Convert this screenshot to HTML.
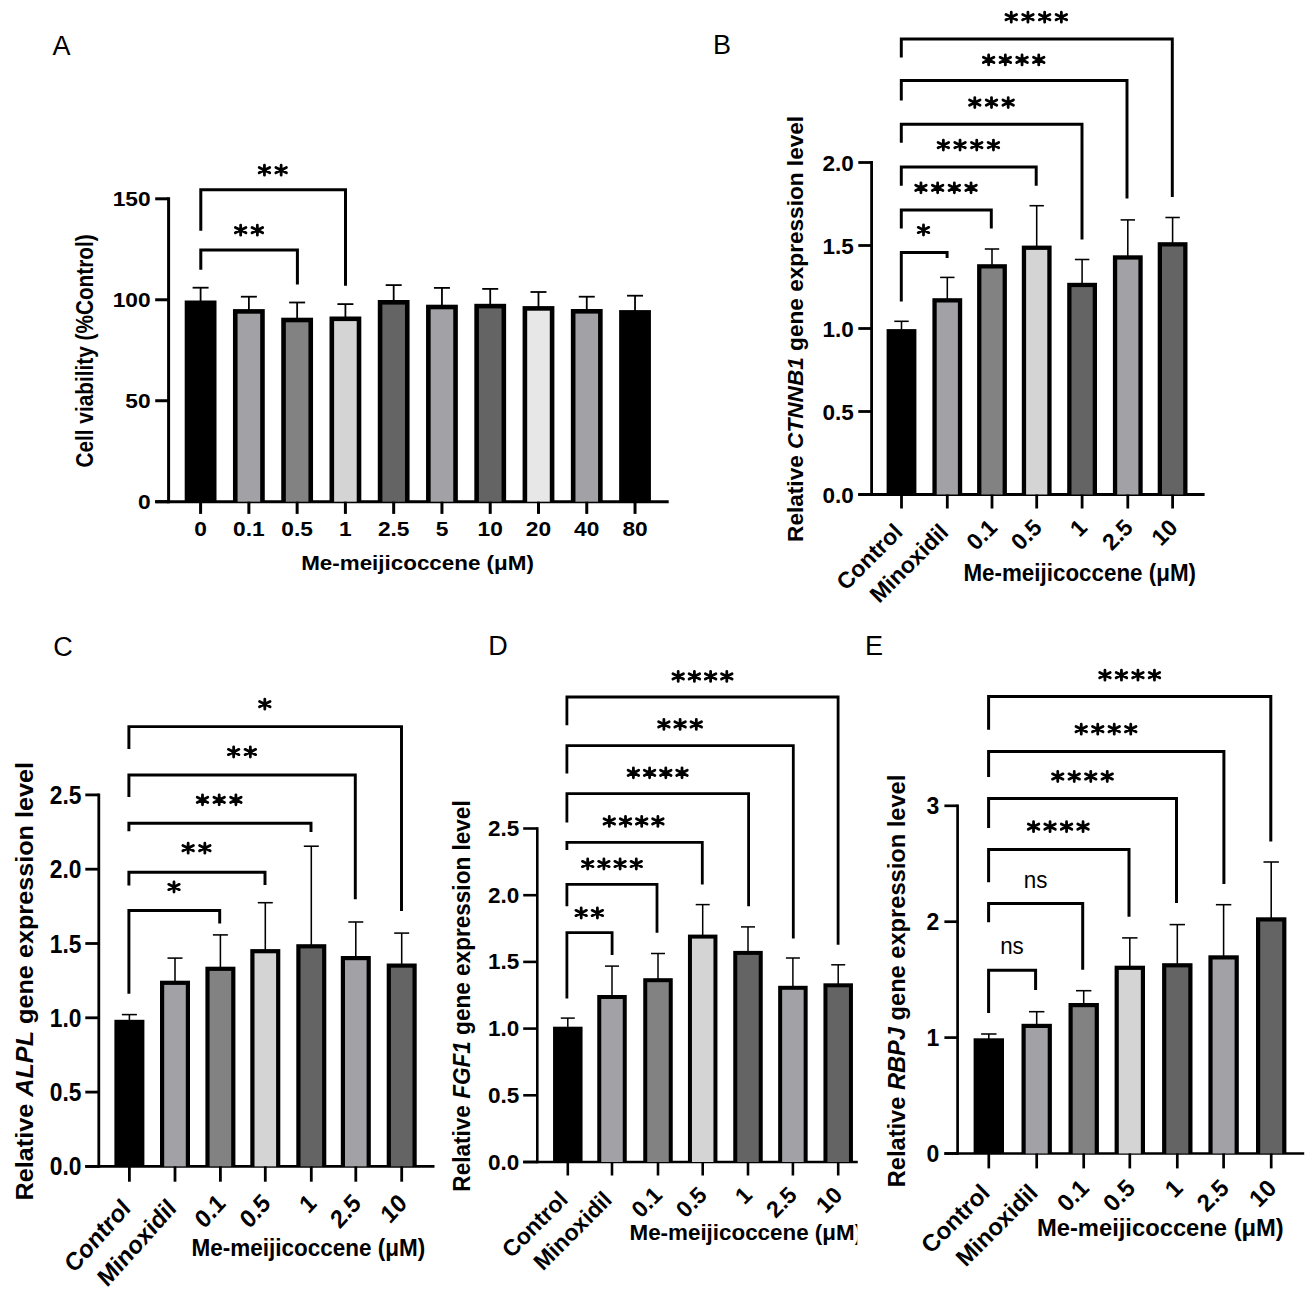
<!DOCTYPE html>
<html><head><meta charset="utf-8"><title>Figure</title>
<style>html,body{margin:0;padding:0;background:#fff;width:1313px;height:1296px;overflow:hidden}svg{display:block}text{font-family:"Liberation Sans",sans-serif}</style>
</head><body>
<svg width="1313" height="1296" viewBox="0 0 1313 1296">
<text x="52.50" y="54.70" font-family="'Liberation Sans',sans-serif" font-size="27" font-weight="normal" text-anchor="start">A</text>
<line x1="168.60" y1="197.30" x2="168.60" y2="503.20" stroke="#000" stroke-width="3.0" stroke-linecap="butt"/>
<line x1="155.20" y1="501.70" x2="168.60" y2="501.70" stroke="#000" stroke-width="3.0" stroke-linecap="butt"/>
<text transform="translate(150.60,509.00) scale(1.12,1)" font-family="'Liberation Sans',sans-serif" font-size="20.3" font-weight="bold" text-anchor="end">0</text>
<line x1="155.20" y1="400.73" x2="168.60" y2="400.73" stroke="#000" stroke-width="3.0" stroke-linecap="butt"/>
<text transform="translate(150.60,408.03) scale(1.12,1)" font-family="'Liberation Sans',sans-serif" font-size="20.3" font-weight="bold" text-anchor="end">50</text>
<line x1="155.20" y1="299.77" x2="168.60" y2="299.77" stroke="#000" stroke-width="3.0" stroke-linecap="butt"/>
<text transform="translate(150.60,307.07) scale(1.12,1)" font-family="'Liberation Sans',sans-serif" font-size="20.3" font-weight="bold" text-anchor="end">100</text>
<line x1="155.20" y1="198.80" x2="168.60" y2="198.80" stroke="#000" stroke-width="3.0" stroke-linecap="butt"/>
<text transform="translate(150.60,206.10) scale(1.12,1)" font-family="'Liberation Sans',sans-serif" font-size="20.3" font-weight="bold" text-anchor="end">150</text>
<line x1="155.20" y1="501.70" x2="668.70" y2="501.70" stroke="#000" stroke-width="3.0" stroke-linecap="butt"/>
<line x1="200.60" y1="301.50" x2="200.60" y2="287.70" stroke="#000" stroke-width="1.8" stroke-linecap="butt"/>
<line x1="192.60" y1="287.70" x2="208.60" y2="287.70" stroke="#000" stroke-width="1.8" stroke-linecap="butt"/>
<rect x="184.70" y="300.50" width="31.80" height="201.20" fill="#000"/>
<line x1="200.60" y1="501.70" x2="200.60" y2="513.90" stroke="#000" stroke-width="3.0" stroke-linecap="butt"/>
<line x1="248.87" y1="310.10" x2="248.87" y2="296.70" stroke="#000" stroke-width="1.8" stroke-linecap="butt"/>
<line x1="240.87" y1="296.70" x2="256.87" y2="296.70" stroke="#000" stroke-width="1.8" stroke-linecap="butt"/>
<rect x="232.97" y="309.10" width="31.80" height="192.60" fill="#000"/>
<rect x="237.57" y="313.70" width="22.60" height="188.00" fill="#a1a1a6"/>
<line x1="248.87" y1="501.70" x2="248.87" y2="513.90" stroke="#000" stroke-width="3.0" stroke-linecap="butt"/>
<line x1="297.14" y1="318.70" x2="297.14" y2="302.50" stroke="#000" stroke-width="1.8" stroke-linecap="butt"/>
<line x1="289.14" y1="302.50" x2="305.14" y2="302.50" stroke="#000" stroke-width="1.8" stroke-linecap="butt"/>
<rect x="281.24" y="317.70" width="31.80" height="184.00" fill="#000"/>
<rect x="285.84" y="322.30" width="22.60" height="179.40" fill="#828282"/>
<line x1="297.14" y1="501.70" x2="297.14" y2="513.90" stroke="#000" stroke-width="3.0" stroke-linecap="butt"/>
<line x1="345.41" y1="317.50" x2="345.41" y2="304.10" stroke="#000" stroke-width="1.8" stroke-linecap="butt"/>
<line x1="337.41" y1="304.10" x2="353.41" y2="304.10" stroke="#000" stroke-width="1.8" stroke-linecap="butt"/>
<rect x="329.51" y="316.50" width="31.80" height="185.20" fill="#000"/>
<rect x="334.11" y="321.10" width="22.60" height="180.60" fill="#d4d4d4"/>
<line x1="345.41" y1="501.70" x2="345.41" y2="513.90" stroke="#000" stroke-width="3.0" stroke-linecap="butt"/>
<line x1="393.68" y1="301.00" x2="393.68" y2="285.10" stroke="#000" stroke-width="1.8" stroke-linecap="butt"/>
<line x1="385.68" y1="285.10" x2="401.68" y2="285.10" stroke="#000" stroke-width="1.8" stroke-linecap="butt"/>
<rect x="377.78" y="300.00" width="31.80" height="201.70" fill="#000"/>
<rect x="382.38" y="304.60" width="22.60" height="197.10" fill="#646464"/>
<line x1="393.68" y1="501.70" x2="393.68" y2="513.90" stroke="#000" stroke-width="3.0" stroke-linecap="butt"/>
<line x1="441.95" y1="305.70" x2="441.95" y2="287.90" stroke="#000" stroke-width="1.8" stroke-linecap="butt"/>
<line x1="433.95" y1="287.90" x2="449.95" y2="287.90" stroke="#000" stroke-width="1.8" stroke-linecap="butt"/>
<rect x="426.05" y="304.70" width="31.80" height="197.00" fill="#000"/>
<rect x="430.65" y="309.30" width="22.60" height="192.40" fill="#a1a1a6"/>
<line x1="441.95" y1="501.70" x2="441.95" y2="513.90" stroke="#000" stroke-width="3.0" stroke-linecap="butt"/>
<line x1="490.22" y1="304.80" x2="490.22" y2="288.90" stroke="#000" stroke-width="1.8" stroke-linecap="butt"/>
<line x1="482.22" y1="288.90" x2="498.22" y2="288.90" stroke="#000" stroke-width="1.8" stroke-linecap="butt"/>
<rect x="474.32" y="303.80" width="31.80" height="197.90" fill="#000"/>
<rect x="478.92" y="308.40" width="22.60" height="193.30" fill="#646464"/>
<line x1="490.22" y1="501.70" x2="490.22" y2="513.90" stroke="#000" stroke-width="3.0" stroke-linecap="butt"/>
<line x1="538.49" y1="307.10" x2="538.49" y2="292.00" stroke="#000" stroke-width="1.8" stroke-linecap="butt"/>
<line x1="530.49" y1="292.00" x2="546.49" y2="292.00" stroke="#000" stroke-width="1.8" stroke-linecap="butt"/>
<rect x="522.59" y="306.10" width="31.80" height="195.60" fill="#000"/>
<rect x="527.19" y="310.70" width="22.60" height="191.00" fill="#e7e7e7"/>
<line x1="538.49" y1="501.70" x2="538.49" y2="513.90" stroke="#000" stroke-width="3.0" stroke-linecap="butt"/>
<line x1="586.76" y1="310.00" x2="586.76" y2="296.70" stroke="#000" stroke-width="1.8" stroke-linecap="butt"/>
<line x1="578.76" y1="296.70" x2="594.76" y2="296.70" stroke="#000" stroke-width="1.8" stroke-linecap="butt"/>
<rect x="570.86" y="309.00" width="31.80" height="192.70" fill="#000"/>
<rect x="575.46" y="313.60" width="22.60" height="188.10" fill="#a1a1a6"/>
<line x1="586.76" y1="501.70" x2="586.76" y2="513.90" stroke="#000" stroke-width="3.0" stroke-linecap="butt"/>
<line x1="635.03" y1="311.10" x2="635.03" y2="295.70" stroke="#000" stroke-width="1.8" stroke-linecap="butt"/>
<line x1="627.03" y1="295.70" x2="643.03" y2="295.70" stroke="#000" stroke-width="1.8" stroke-linecap="butt"/>
<rect x="619.13" y="310.10" width="31.80" height="191.60" fill="#000"/>
<line x1="635.03" y1="501.70" x2="635.03" y2="513.90" stroke="#000" stroke-width="3.0" stroke-linecap="butt"/>
<text transform="translate(200.60,535.90) scale(1.12,1)" font-family="'Liberation Sans',sans-serif" font-size="20.3" font-weight="bold" text-anchor="middle">0</text>
<text transform="translate(248.87,535.90) scale(1.12,1)" font-family="'Liberation Sans',sans-serif" font-size="20.3" font-weight="bold" text-anchor="middle">0.1</text>
<text transform="translate(297.14,535.90) scale(1.12,1)" font-family="'Liberation Sans',sans-serif" font-size="20.3" font-weight="bold" text-anchor="middle">0.5</text>
<text transform="translate(345.41,535.90) scale(1.12,1)" font-family="'Liberation Sans',sans-serif" font-size="20.3" font-weight="bold" text-anchor="middle">1</text>
<text transform="translate(393.68,535.90) scale(1.12,1)" font-family="'Liberation Sans',sans-serif" font-size="20.3" font-weight="bold" text-anchor="middle">2.5</text>
<text transform="translate(441.95,535.90) scale(1.12,1)" font-family="'Liberation Sans',sans-serif" font-size="20.3" font-weight="bold" text-anchor="middle">5</text>
<text transform="translate(490.22,535.90) scale(1.12,1)" font-family="'Liberation Sans',sans-serif" font-size="20.3" font-weight="bold" text-anchor="middle">10</text>
<text transform="translate(538.49,535.90) scale(1.12,1)" font-family="'Liberation Sans',sans-serif" font-size="20.3" font-weight="bold" text-anchor="middle">20</text>
<text transform="translate(586.76,535.90) scale(1.12,1)" font-family="'Liberation Sans',sans-serif" font-size="20.3" font-weight="bold" text-anchor="middle">40</text>
<text transform="translate(635.03,535.90) scale(1.12,1)" font-family="'Liberation Sans',sans-serif" font-size="20.3" font-weight="bold" text-anchor="middle">80</text>
<path d="M200.80 269.80V250.00H297.40V284.60" fill="none" stroke="#000" stroke-width="3.0" stroke-linejoin="miter" stroke-linecap="butt"/>
<path d="M240.65 225.20V235.20M235.37 227.57L245.93 232.83M235.37 232.83L245.93 227.57" stroke="#000" stroke-width="2.80" stroke-linecap="round" fill="none"/>
<circle cx="240.65" cy="230.20" r="2.30"/>
<path d="M257.35 225.20V235.20M252.07 227.57L262.63 232.83M252.07 232.83L262.63 227.57" stroke="#000" stroke-width="2.80" stroke-linecap="round" fill="none"/>
<circle cx="257.35" cy="230.20" r="2.30"/>
<path d="M200.80 230.70V189.70H345.50V285.70" fill="none" stroke="#000" stroke-width="3.0" stroke-linejoin="miter" stroke-linecap="butt"/>
<path d="M264.45 165.20V175.20M259.17 167.57L269.73 172.83M259.17 172.83L269.73 167.57" stroke="#000" stroke-width="2.80" stroke-linecap="round" fill="none"/>
<circle cx="264.45" cy="170.20" r="2.30"/>
<path d="M281.15 165.20V175.20M275.87 167.57L286.43 172.83M275.87 172.83L286.43 167.57" stroke="#000" stroke-width="2.80" stroke-linecap="round" fill="none"/>
<circle cx="281.15" cy="170.20" r="2.30"/>
<text x="417.55" y="570.40" font-family="'Liberation Sans',sans-serif" font-size="20.8" font-weight="bold" text-anchor="middle" textLength="232.7" lengthAdjust="spacingAndGlyphs">Me-meijicoccene (μM)</text>
<text transform="translate(92.60,350.95) scale(1.12,1) rotate(-90)" font-family="'Liberation Sans',sans-serif" font-size="20.7" font-weight="bold" text-anchor="middle" textLength="233.2" lengthAdjust="spacingAndGlyphs">Cell viability (%Control)</text>
<text x="713.00" y="54.20" font-family="'Liberation Sans',sans-serif" font-size="27" font-weight="normal" text-anchor="start">B</text>
<line x1="871.60" y1="161.10" x2="871.60" y2="495.90" stroke="#000" stroke-width="2.8" stroke-linecap="butt"/>
<line x1="858.30" y1="494.50" x2="871.60" y2="494.50" stroke="#000" stroke-width="2.8" stroke-linecap="butt"/>
<text x="853.90" y="502.50" font-family="'Liberation Sans',sans-serif" font-size="22.5" font-weight="bold" text-anchor="end">0.0</text>
<line x1="858.30" y1="411.50" x2="871.60" y2="411.50" stroke="#000" stroke-width="2.8" stroke-linecap="butt"/>
<text x="853.90" y="419.50" font-family="'Liberation Sans',sans-serif" font-size="22.5" font-weight="bold" text-anchor="end">0.5</text>
<line x1="858.30" y1="328.50" x2="871.60" y2="328.50" stroke="#000" stroke-width="2.8" stroke-linecap="butt"/>
<text x="853.90" y="336.50" font-family="'Liberation Sans',sans-serif" font-size="22.5" font-weight="bold" text-anchor="end">1.0</text>
<line x1="858.30" y1="245.50" x2="871.60" y2="245.50" stroke="#000" stroke-width="2.8" stroke-linecap="butt"/>
<text x="853.90" y="253.50" font-family="'Liberation Sans',sans-serif" font-size="22.5" font-weight="bold" text-anchor="end">1.5</text>
<line x1="858.30" y1="162.50" x2="871.60" y2="162.50" stroke="#000" stroke-width="2.8" stroke-linecap="butt"/>
<text x="853.90" y="170.50" font-family="'Liberation Sans',sans-serif" font-size="22.5" font-weight="bold" text-anchor="end">2.0</text>
<line x1="858.30" y1="494.50" x2="1204.60" y2="494.50" stroke="#000" stroke-width="2.8" stroke-linecap="butt"/>
<line x1="901.50" y1="330.10" x2="901.50" y2="321.30" stroke="#000" stroke-width="1.55" stroke-linecap="butt"/>
<line x1="894.30" y1="321.30" x2="908.70" y2="321.30" stroke="#000" stroke-width="1.55" stroke-linecap="butt"/>
<rect x="886.60" y="329.10" width="29.80" height="165.40" fill="#000"/>
<line x1="901.50" y1="494.50" x2="901.50" y2="508.50" stroke="#000" stroke-width="2.8" stroke-linecap="butt"/>
<line x1="947.30" y1="299.20" x2="947.30" y2="277.40" stroke="#000" stroke-width="1.55" stroke-linecap="butt"/>
<line x1="940.10" y1="277.40" x2="954.50" y2="277.40" stroke="#000" stroke-width="1.55" stroke-linecap="butt"/>
<rect x="932.40" y="298.20" width="29.80" height="196.30" fill="#000"/>
<rect x="936.70" y="302.50" width="21.20" height="192.00" fill="#a1a1a6"/>
<line x1="947.30" y1="494.50" x2="947.30" y2="508.50" stroke="#000" stroke-width="2.8" stroke-linecap="butt"/>
<line x1="992.00" y1="265.20" x2="992.00" y2="249.00" stroke="#000" stroke-width="1.55" stroke-linecap="butt"/>
<line x1="984.80" y1="249.00" x2="999.20" y2="249.00" stroke="#000" stroke-width="1.55" stroke-linecap="butt"/>
<rect x="977.10" y="264.20" width="29.80" height="230.30" fill="#000"/>
<rect x="981.40" y="268.50" width="21.20" height="226.00" fill="#828282"/>
<line x1="992.00" y1="494.50" x2="992.00" y2="508.50" stroke="#000" stroke-width="2.8" stroke-linecap="butt"/>
<line x1="1036.70" y1="246.60" x2="1036.70" y2="205.70" stroke="#000" stroke-width="1.55" stroke-linecap="butt"/>
<line x1="1029.50" y1="205.70" x2="1043.90" y2="205.70" stroke="#000" stroke-width="1.55" stroke-linecap="butt"/>
<rect x="1021.80" y="245.60" width="29.80" height="248.90" fill="#000"/>
<rect x="1026.10" y="249.90" width="21.20" height="244.60" fill="#d4d4d4"/>
<line x1="1036.70" y1="494.50" x2="1036.70" y2="508.50" stroke="#000" stroke-width="2.8" stroke-linecap="butt"/>
<line x1="1082.10" y1="283.80" x2="1082.10" y2="259.50" stroke="#000" stroke-width="1.55" stroke-linecap="butt"/>
<line x1="1074.90" y1="259.50" x2="1089.30" y2="259.50" stroke="#000" stroke-width="1.55" stroke-linecap="butt"/>
<rect x="1067.20" y="282.80" width="29.80" height="211.70" fill="#000"/>
<rect x="1071.50" y="287.10" width="21.20" height="207.40" fill="#646464"/>
<line x1="1082.10" y1="494.50" x2="1082.10" y2="508.50" stroke="#000" stroke-width="2.8" stroke-linecap="butt"/>
<line x1="1127.80" y1="256.30" x2="1127.80" y2="219.90" stroke="#000" stroke-width="1.55" stroke-linecap="butt"/>
<line x1="1120.60" y1="219.90" x2="1135.00" y2="219.90" stroke="#000" stroke-width="1.55" stroke-linecap="butt"/>
<rect x="1112.90" y="255.30" width="29.80" height="239.20" fill="#000"/>
<rect x="1117.20" y="259.60" width="21.20" height="234.90" fill="#a1a1a6"/>
<line x1="1127.80" y1="494.50" x2="1127.80" y2="508.50" stroke="#000" stroke-width="2.8" stroke-linecap="butt"/>
<line x1="1172.60" y1="243.20" x2="1172.60" y2="217.50" stroke="#000" stroke-width="1.55" stroke-linecap="butt"/>
<line x1="1165.40" y1="217.50" x2="1179.80" y2="217.50" stroke="#000" stroke-width="1.55" stroke-linecap="butt"/>
<rect x="1157.70" y="242.20" width="29.80" height="252.30" fill="#000"/>
<rect x="1162.00" y="246.50" width="21.20" height="248.00" fill="#646464"/>
<line x1="1172.60" y1="494.50" x2="1172.60" y2="508.50" stroke="#000" stroke-width="2.8" stroke-linecap="butt"/>
<text transform="translate(903.90,533.60) rotate(-45)" font-family="'Liberation Sans',sans-serif" font-size="23" font-weight="bold" text-anchor="end">Control</text>
<text transform="translate(949.70,533.60) rotate(-45)" font-family="'Liberation Sans',sans-serif" font-size="23" font-weight="bold" text-anchor="end">Minoxidil</text>
<text transform="translate(998.50,529.00) rotate(-45)" font-family="'Liberation Sans',sans-serif" font-size="23" font-weight="bold" text-anchor="end">0.1</text>
<text transform="translate(1043.20,529.00) rotate(-45)" font-family="'Liberation Sans',sans-serif" font-size="23" font-weight="bold" text-anchor="end">0.5</text>
<text transform="translate(1088.60,529.00) rotate(-45)" font-family="'Liberation Sans',sans-serif" font-size="23" font-weight="bold" text-anchor="end">1</text>
<text transform="translate(1134.30,529.00) rotate(-45)" font-family="'Liberation Sans',sans-serif" font-size="23" font-weight="bold" text-anchor="end">2.5</text>
<text transform="translate(1179.10,529.00) rotate(-45)" font-family="'Liberation Sans',sans-serif" font-size="23" font-weight="bold" text-anchor="end">10</text>
<path d="M901.30 301.60V252.50H947.10V257.90" fill="none" stroke="#000" stroke-width="2.95" stroke-linejoin="miter" stroke-linecap="butt"/>
<path d="M923.50 225.00V235.00M918.22 227.37L928.78 232.63M918.22 232.63L928.78 227.37" stroke="#000" stroke-width="2.80" stroke-linecap="round" fill="none"/>
<circle cx="923.50" cy="230.00" r="2.30"/>
<path d="M901.30 228.50V209.90H991.30V228.50" fill="none" stroke="#000" stroke-width="2.95" stroke-linejoin="miter" stroke-linecap="butt"/>
<path d="M920.95 182.80V192.80M915.67 185.17L926.23 190.43M915.67 190.43L926.23 185.17" stroke="#000" stroke-width="2.80" stroke-linecap="round" fill="none"/>
<circle cx="920.95" cy="187.80" r="2.30"/>
<path d="M937.65 182.80V192.80M932.37 185.17L942.93 190.43M932.37 190.43L942.93 185.17" stroke="#000" stroke-width="2.80" stroke-linecap="round" fill="none"/>
<circle cx="937.65" cy="187.80" r="2.30"/>
<path d="M954.35 182.80V192.80M949.07 185.17L959.63 190.43M949.07 190.43L959.63 185.17" stroke="#000" stroke-width="2.80" stroke-linecap="round" fill="none"/>
<circle cx="954.35" cy="187.80" r="2.30"/>
<path d="M971.05 182.80V192.80M965.77 185.17L976.33 190.43M965.77 190.43L976.33 185.17" stroke="#000" stroke-width="2.80" stroke-linecap="round" fill="none"/>
<circle cx="971.05" cy="187.80" r="2.30"/>
<path d="M901.30 185.80V166.90H1036.20V185.80" fill="none" stroke="#000" stroke-width="2.95" stroke-linejoin="miter" stroke-linecap="butt"/>
<path d="M943.35 140.10V150.10M938.07 142.47L948.63 147.73M938.07 147.73L948.63 142.47" stroke="#000" stroke-width="2.80" stroke-linecap="round" fill="none"/>
<circle cx="943.35" cy="145.10" r="2.30"/>
<path d="M960.05 140.10V150.10M954.77 142.47L965.33 147.73M954.77 147.73L965.33 142.47" stroke="#000" stroke-width="2.80" stroke-linecap="round" fill="none"/>
<circle cx="960.05" cy="145.10" r="2.30"/>
<path d="M976.75 140.10V150.10M971.47 142.47L982.03 147.73M971.47 147.73L982.03 142.47" stroke="#000" stroke-width="2.80" stroke-linecap="round" fill="none"/>
<circle cx="976.75" cy="145.10" r="2.30"/>
<path d="M993.45 140.10V150.10M988.17 142.47L998.73 147.73M988.17 147.73L998.73 142.47" stroke="#000" stroke-width="2.80" stroke-linecap="round" fill="none"/>
<circle cx="993.45" cy="145.10" r="2.30"/>
<path d="M901.30 142.80V124.30H1082.00V239.60" fill="none" stroke="#000" stroke-width="2.95" stroke-linejoin="miter" stroke-linecap="butt"/>
<path d="M974.80 97.60V107.60M969.52 99.97L980.08 105.23M969.52 105.23L980.08 99.97" stroke="#000" stroke-width="2.80" stroke-linecap="round" fill="none"/>
<circle cx="974.80" cy="102.60" r="2.30"/>
<path d="M991.50 97.60V107.60M986.22 99.97L996.78 105.23M986.22 105.23L996.78 99.97" stroke="#000" stroke-width="2.80" stroke-linecap="round" fill="none"/>
<circle cx="991.50" cy="102.60" r="2.30"/>
<path d="M1008.20 97.60V107.60M1002.92 99.97L1013.48 105.23M1002.92 105.23L1013.48 99.97" stroke="#000" stroke-width="2.80" stroke-linecap="round" fill="none"/>
<circle cx="1008.20" cy="102.60" r="2.30"/>
<path d="M901.30 100.50V80.50H1127.00V198.40" fill="none" stroke="#000" stroke-width="2.95" stroke-linejoin="miter" stroke-linecap="butt"/>
<path d="M988.65 54.90V64.90M983.37 57.27L993.93 62.53M983.37 62.53L993.93 57.27" stroke="#000" stroke-width="2.80" stroke-linecap="round" fill="none"/>
<circle cx="988.65" cy="59.90" r="2.30"/>
<path d="M1005.35 54.90V64.90M1000.07 57.27L1010.63 62.53M1000.07 62.53L1010.63 57.27" stroke="#000" stroke-width="2.80" stroke-linecap="round" fill="none"/>
<circle cx="1005.35" cy="59.90" r="2.30"/>
<path d="M1022.05 54.90V64.90M1016.77 57.27L1027.33 62.53M1016.77 62.53L1027.33 57.27" stroke="#000" stroke-width="2.80" stroke-linecap="round" fill="none"/>
<circle cx="1022.05" cy="59.90" r="2.30"/>
<path d="M1038.75 54.90V64.90M1033.47 57.27L1044.03 62.53M1033.47 62.53L1044.03 57.27" stroke="#000" stroke-width="2.80" stroke-linecap="round" fill="none"/>
<circle cx="1038.75" cy="59.90" r="2.30"/>
<path d="M901.30 57.60V39.00H1172.30V197.00" fill="none" stroke="#000" stroke-width="2.95" stroke-linejoin="miter" stroke-linecap="butt"/>
<path d="M1011.25 12.20V22.20M1005.97 14.57L1016.53 19.83M1005.97 19.83L1016.53 14.57" stroke="#000" stroke-width="2.80" stroke-linecap="round" fill="none"/>
<circle cx="1011.25" cy="17.20" r="2.30"/>
<path d="M1027.95 12.20V22.20M1022.67 14.57L1033.23 19.83M1022.67 19.83L1033.23 14.57" stroke="#000" stroke-width="2.80" stroke-linecap="round" fill="none"/>
<circle cx="1027.95" cy="17.20" r="2.30"/>
<path d="M1044.65 12.20V22.20M1039.37 14.57L1049.93 19.83M1039.37 19.83L1049.93 14.57" stroke="#000" stroke-width="2.80" stroke-linecap="round" fill="none"/>
<circle cx="1044.65" cy="17.20" r="2.30"/>
<path d="M1061.35 12.20V22.20M1056.07 14.57L1066.63 19.83M1056.07 19.83L1066.63 14.57" stroke="#000" stroke-width="2.80" stroke-linecap="round" fill="none"/>
<circle cx="1061.35" cy="17.20" r="2.30"/>
<text x="1079.70" y="580.90" font-family="'Liberation Sans',sans-serif" font-size="23" font-weight="bold" text-anchor="middle" textLength="232.6" lengthAdjust="spacingAndGlyphs">Me-meijicoccene (μM)</text>
<text transform="translate(803.10,328.90) rotate(-90)" font-family="'Liberation Sans',sans-serif" font-size="22.5" font-weight="bold" text-anchor="middle" textLength="426.1" lengthAdjust="spacingAndGlyphs">Relative <tspan font-style="italic">CTNNB1</tspan> gene expression level</text>
<text x="53.30" y="656.40" font-family="'Liberation Sans',sans-serif" font-size="27" font-weight="normal" text-anchor="start">C</text>
<line x1="98.80" y1="793.50" x2="98.80" y2="1167.80" stroke="#000" stroke-width="2.8" stroke-linecap="butt"/>
<line x1="85.30" y1="1166.40" x2="98.80" y2="1166.40" stroke="#000" stroke-width="2.8" stroke-linecap="butt"/>
<text transform="translate(81.50,1175.40) scale(1,1.1)" font-family="'Liberation Sans',sans-serif" font-size="22.8" font-weight="bold" text-anchor="end">0.0</text>
<line x1="85.30" y1="1092.10" x2="98.80" y2="1092.10" stroke="#000" stroke-width="2.8" stroke-linecap="butt"/>
<text transform="translate(81.50,1101.10) scale(1,1.1)" font-family="'Liberation Sans',sans-serif" font-size="22.8" font-weight="bold" text-anchor="end">0.5</text>
<line x1="85.30" y1="1017.80" x2="98.80" y2="1017.80" stroke="#000" stroke-width="2.8" stroke-linecap="butt"/>
<text transform="translate(81.50,1026.80) scale(1,1.1)" font-family="'Liberation Sans',sans-serif" font-size="22.8" font-weight="bold" text-anchor="end">1.0</text>
<line x1="85.30" y1="943.50" x2="98.80" y2="943.50" stroke="#000" stroke-width="2.8" stroke-linecap="butt"/>
<text transform="translate(81.50,952.50) scale(1,1.1)" font-family="'Liberation Sans',sans-serif" font-size="22.8" font-weight="bold" text-anchor="end">1.5</text>
<line x1="85.30" y1="869.20" x2="98.80" y2="869.20" stroke="#000" stroke-width="2.8" stroke-linecap="butt"/>
<text transform="translate(81.50,878.20) scale(1,1.1)" font-family="'Liberation Sans',sans-serif" font-size="22.8" font-weight="bold" text-anchor="end">2.0</text>
<line x1="85.30" y1="794.90" x2="98.80" y2="794.90" stroke="#000" stroke-width="2.8" stroke-linecap="butt"/>
<text transform="translate(81.50,803.90) scale(1,1.1)" font-family="'Liberation Sans',sans-serif" font-size="22.8" font-weight="bold" text-anchor="end">2.5</text>
<line x1="85.30" y1="1166.40" x2="434.50" y2="1166.40" stroke="#000" stroke-width="2.8" stroke-linecap="butt"/>
<line x1="129.40" y1="1020.80" x2="129.40" y2="1014.60" stroke="#000" stroke-width="1.55" stroke-linecap="butt"/>
<line x1="121.90" y1="1014.60" x2="136.90" y2="1014.60" stroke="#000" stroke-width="1.55" stroke-linecap="butt"/>
<rect x="114.40" y="1019.80" width="30.00" height="146.60" fill="#000"/>
<line x1="129.40" y1="1166.40" x2="129.40" y2="1181.70" stroke="#000" stroke-width="2.8" stroke-linecap="butt"/>
<line x1="175.00" y1="981.70" x2="175.00" y2="958.10" stroke="#000" stroke-width="1.55" stroke-linecap="butt"/>
<line x1="167.50" y1="958.10" x2="182.50" y2="958.10" stroke="#000" stroke-width="1.55" stroke-linecap="butt"/>
<rect x="160.00" y="980.70" width="30.00" height="185.70" fill="#000"/>
<rect x="164.20" y="984.90" width="21.60" height="181.50" fill="#a1a1a6"/>
<line x1="175.00" y1="1166.40" x2="175.00" y2="1181.70" stroke="#000" stroke-width="2.8" stroke-linecap="butt"/>
<line x1="220.40" y1="967.70" x2="220.40" y2="934.90" stroke="#000" stroke-width="1.55" stroke-linecap="butt"/>
<line x1="212.90" y1="934.90" x2="227.90" y2="934.90" stroke="#000" stroke-width="1.55" stroke-linecap="butt"/>
<rect x="205.40" y="966.70" width="30.00" height="199.70" fill="#000"/>
<rect x="209.60" y="970.90" width="21.60" height="195.50" fill="#828282"/>
<line x1="220.40" y1="1166.40" x2="220.40" y2="1181.70" stroke="#000" stroke-width="2.8" stroke-linecap="butt"/>
<line x1="265.30" y1="950.10" x2="265.30" y2="902.70" stroke="#000" stroke-width="1.55" stroke-linecap="butt"/>
<line x1="257.80" y1="902.70" x2="272.80" y2="902.70" stroke="#000" stroke-width="1.55" stroke-linecap="butt"/>
<rect x="250.30" y="949.10" width="30.00" height="217.30" fill="#000"/>
<rect x="254.50" y="953.30" width="21.60" height="213.10" fill="#d4d4d4"/>
<line x1="265.30" y1="1166.40" x2="265.30" y2="1181.70" stroke="#000" stroke-width="2.8" stroke-linecap="butt"/>
<line x1="311.30" y1="945.20" x2="311.30" y2="846.20" stroke="#000" stroke-width="1.55" stroke-linecap="butt"/>
<line x1="303.80" y1="846.20" x2="318.80" y2="846.20" stroke="#000" stroke-width="1.55" stroke-linecap="butt"/>
<rect x="296.30" y="944.20" width="30.00" height="222.20" fill="#000"/>
<rect x="300.50" y="948.40" width="21.60" height="218.00" fill="#646464"/>
<line x1="311.30" y1="1166.40" x2="311.30" y2="1181.70" stroke="#000" stroke-width="2.8" stroke-linecap="butt"/>
<line x1="355.80" y1="957.00" x2="355.80" y2="922.00" stroke="#000" stroke-width="1.55" stroke-linecap="butt"/>
<line x1="348.30" y1="922.00" x2="363.30" y2="922.00" stroke="#000" stroke-width="1.55" stroke-linecap="butt"/>
<rect x="340.80" y="956.00" width="30.00" height="210.40" fill="#000"/>
<rect x="345.00" y="960.20" width="21.60" height="206.20" fill="#a1a1a6"/>
<line x1="355.80" y1="1166.40" x2="355.80" y2="1181.70" stroke="#000" stroke-width="2.8" stroke-linecap="butt"/>
<line x1="401.70" y1="964.50" x2="401.70" y2="933.10" stroke="#000" stroke-width="1.55" stroke-linecap="butt"/>
<line x1="394.20" y1="933.10" x2="409.20" y2="933.10" stroke="#000" stroke-width="1.55" stroke-linecap="butt"/>
<rect x="386.70" y="963.50" width="30.00" height="202.90" fill="#000"/>
<rect x="390.90" y="967.70" width="21.60" height="198.70" fill="#646464"/>
<line x1="401.70" y1="1166.40" x2="401.70" y2="1181.70" stroke="#000" stroke-width="2.8" stroke-linecap="butt"/>
<text transform="translate(131.80,1209.80) scale(1,1.11) rotate(-45)" font-family="'Liberation Sans',sans-serif" font-size="23" font-weight="bold" text-anchor="end">Control</text>
<text transform="translate(177.40,1209.80) scale(1,1.11) rotate(-45)" font-family="'Liberation Sans',sans-serif" font-size="23" font-weight="bold" text-anchor="end">Minoxidil</text>
<text transform="translate(226.90,1204.70) scale(1,1.11) rotate(-45)" font-family="'Liberation Sans',sans-serif" font-size="23" font-weight="bold" text-anchor="end">0.1</text>
<text transform="translate(271.80,1204.70) scale(1,1.11) rotate(-45)" font-family="'Liberation Sans',sans-serif" font-size="23" font-weight="bold" text-anchor="end">0.5</text>
<text transform="translate(317.80,1204.70) scale(1,1.11) rotate(-45)" font-family="'Liberation Sans',sans-serif" font-size="23" font-weight="bold" text-anchor="end">1</text>
<text transform="translate(362.30,1204.70) scale(1,1.11) rotate(-45)" font-family="'Liberation Sans',sans-serif" font-size="23" font-weight="bold" text-anchor="end">2.5</text>
<text transform="translate(408.20,1204.70) scale(1,1.11) rotate(-45)" font-family="'Liberation Sans',sans-serif" font-size="23" font-weight="bold" text-anchor="end">10</text>
<path d="M128.90 993.70V910.50H219.70V923.50" fill="none" stroke="#000" stroke-width="2.95" stroke-linejoin="miter" stroke-linecap="butt"/>
<path d="M174.00 882.00V892.00M168.72 884.37L179.28 889.63M168.72 889.63L179.28 884.37" stroke="#000" stroke-width="2.80" stroke-linecap="round" fill="none"/>
<circle cx="174.00" cy="887.00" r="2.30"/>
<path d="M128.90 885.40V872.20H265.00V884.90" fill="none" stroke="#000" stroke-width="2.95" stroke-linejoin="miter" stroke-linecap="butt"/>
<path d="M188.15 843.20V853.20M182.87 845.57L193.43 850.83M182.87 850.83L193.43 845.57" stroke="#000" stroke-width="2.80" stroke-linecap="round" fill="none"/>
<circle cx="188.15" cy="848.20" r="2.30"/>
<path d="M204.85 843.20V853.20M199.57 845.57L210.13 850.83M199.57 850.83L210.13 845.57" stroke="#000" stroke-width="2.80" stroke-linecap="round" fill="none"/>
<circle cx="204.85" cy="848.20" r="2.30"/>
<path d="M128.90 831.20V823.30H311.00V831.90" fill="none" stroke="#000" stroke-width="2.95" stroke-linejoin="miter" stroke-linecap="butt"/>
<path d="M202.50 794.80V804.80M197.22 797.17L207.78 802.43M197.22 802.43L207.78 797.17" stroke="#000" stroke-width="2.80" stroke-linecap="round" fill="none"/>
<circle cx="202.50" cy="799.80" r="2.30"/>
<path d="M219.20 794.80V804.80M213.92 797.17L224.48 802.43M213.92 802.43L224.48 797.17" stroke="#000" stroke-width="2.80" stroke-linecap="round" fill="none"/>
<circle cx="219.20" cy="799.80" r="2.30"/>
<path d="M235.90 794.80V804.80M230.62 797.17L241.18 802.43M230.62 802.43L241.18 797.17" stroke="#000" stroke-width="2.80" stroke-linecap="round" fill="none"/>
<circle cx="235.90" cy="799.80" r="2.30"/>
<path d="M128.90 797.00V775.00H355.30V899.30" fill="none" stroke="#000" stroke-width="2.95" stroke-linejoin="miter" stroke-linecap="butt"/>
<path d="M233.65 747.00V757.00M228.37 749.37L238.93 754.63M228.37 754.63L238.93 749.37" stroke="#000" stroke-width="2.80" stroke-linecap="round" fill="none"/>
<circle cx="233.65" cy="752.00" r="2.30"/>
<path d="M250.35 747.00V757.00M245.07 749.37L255.63 754.63M245.07 754.63L255.63 749.37" stroke="#000" stroke-width="2.80" stroke-linecap="round" fill="none"/>
<circle cx="250.35" cy="752.00" r="2.30"/>
<path d="M128.90 749.00V726.60H401.50V910.90" fill="none" stroke="#000" stroke-width="2.95" stroke-linejoin="miter" stroke-linecap="butt"/>
<path d="M264.80 699.20V709.20M259.52 701.57L270.08 706.83M259.52 706.83L270.08 701.57" stroke="#000" stroke-width="2.80" stroke-linecap="round" fill="none"/>
<circle cx="264.80" cy="704.20" r="2.30"/>
<text transform="translate(308.45,1255.60) scale(1,1.07)" font-family="'Liberation Sans',sans-serif" font-size="21.5" font-weight="bold" text-anchor="middle" textLength="233.7" lengthAdjust="spacingAndGlyphs">Me-meijicoccene (μM)</text>
<text transform="translate(33.10,981.20) rotate(-90)" font-family="'Liberation Sans',sans-serif" font-size="23.2" font-weight="bold" text-anchor="middle" textLength="438.6" lengthAdjust="spacingAndGlyphs">Relative <tspan font-style="italic">ALPL</tspan> gene expression level</text>
<text x="488.30" y="654.60" font-family="'Liberation Sans',sans-serif" font-size="27" font-weight="normal" text-anchor="start">D</text>
<line x1="537.30" y1="827.20" x2="537.30" y2="1163.30" stroke="#000" stroke-width="2.6" stroke-linecap="butt"/>
<line x1="523.20" y1="1162.00" x2="537.30" y2="1162.00" stroke="#000" stroke-width="2.6" stroke-linecap="butt"/>
<text x="519.20" y="1169.50" font-family="'Liberation Sans',sans-serif" font-size="22.5" font-weight="bold" text-anchor="end">0.0</text>
<line x1="523.20" y1="1095.30" x2="537.30" y2="1095.30" stroke="#000" stroke-width="2.6" stroke-linecap="butt"/>
<text x="519.20" y="1102.80" font-family="'Liberation Sans',sans-serif" font-size="22.5" font-weight="bold" text-anchor="end">0.5</text>
<line x1="523.20" y1="1028.60" x2="537.30" y2="1028.60" stroke="#000" stroke-width="2.6" stroke-linecap="butt"/>
<text x="519.20" y="1036.10" font-family="'Liberation Sans',sans-serif" font-size="22.5" font-weight="bold" text-anchor="end">1.0</text>
<line x1="523.20" y1="961.90" x2="537.30" y2="961.90" stroke="#000" stroke-width="2.6" stroke-linecap="butt"/>
<text x="519.20" y="969.40" font-family="'Liberation Sans',sans-serif" font-size="22.5" font-weight="bold" text-anchor="end">1.5</text>
<line x1="523.20" y1="895.20" x2="537.30" y2="895.20" stroke="#000" stroke-width="2.6" stroke-linecap="butt"/>
<text x="519.20" y="902.70" font-family="'Liberation Sans',sans-serif" font-size="22.5" font-weight="bold" text-anchor="end">2.0</text>
<line x1="523.20" y1="828.50" x2="537.30" y2="828.50" stroke="#000" stroke-width="2.6" stroke-linecap="butt"/>
<text x="519.20" y="836.00" font-family="'Liberation Sans',sans-serif" font-size="22.5" font-weight="bold" text-anchor="end">2.5</text>
<line x1="523.20" y1="1162.00" x2="857.80" y2="1162.00" stroke="#000" stroke-width="2.6" stroke-linecap="butt"/>
<line x1="567.80" y1="1027.70" x2="567.80" y2="1018.10" stroke="#000" stroke-width="1.5" stroke-linecap="butt"/>
<line x1="560.80" y1="1018.10" x2="574.80" y2="1018.10" stroke="#000" stroke-width="1.5" stroke-linecap="butt"/>
<rect x="553.05" y="1026.70" width="29.50" height="135.30" fill="#000"/>
<line x1="567.80" y1="1162.00" x2="567.80" y2="1175.50" stroke="#000" stroke-width="2.6" stroke-linecap="butt"/>
<line x1="612.00" y1="996.00" x2="612.00" y2="966.10" stroke="#000" stroke-width="1.5" stroke-linecap="butt"/>
<line x1="605.00" y1="966.10" x2="619.00" y2="966.10" stroke="#000" stroke-width="1.5" stroke-linecap="butt"/>
<rect x="597.25" y="995.00" width="29.50" height="167.00" fill="#000"/>
<rect x="601.25" y="999.00" width="21.50" height="163.00" fill="#a1a1a6"/>
<line x1="612.00" y1="1162.00" x2="612.00" y2="1175.50" stroke="#000" stroke-width="2.6" stroke-linecap="butt"/>
<line x1="658.00" y1="979.20" x2="658.00" y2="953.50" stroke="#000" stroke-width="1.5" stroke-linecap="butt"/>
<line x1="651.00" y1="953.50" x2="665.00" y2="953.50" stroke="#000" stroke-width="1.5" stroke-linecap="butt"/>
<rect x="643.25" y="978.20" width="29.50" height="183.80" fill="#000"/>
<rect x="647.25" y="982.20" width="21.50" height="179.80" fill="#828282"/>
<line x1="658.00" y1="1162.00" x2="658.00" y2="1175.50" stroke="#000" stroke-width="2.6" stroke-linecap="butt"/>
<line x1="702.70" y1="935.60" x2="702.70" y2="904.60" stroke="#000" stroke-width="1.5" stroke-linecap="butt"/>
<line x1="695.70" y1="904.60" x2="709.70" y2="904.60" stroke="#000" stroke-width="1.5" stroke-linecap="butt"/>
<rect x="687.95" y="934.60" width="29.50" height="227.40" fill="#000"/>
<rect x="691.95" y="938.60" width="21.50" height="223.40" fill="#d4d4d4"/>
<line x1="702.70" y1="1162.00" x2="702.70" y2="1175.50" stroke="#000" stroke-width="2.6" stroke-linecap="butt"/>
<line x1="748.00" y1="951.90" x2="748.00" y2="926.90" stroke="#000" stroke-width="1.5" stroke-linecap="butt"/>
<line x1="741.00" y1="926.90" x2="755.00" y2="926.90" stroke="#000" stroke-width="1.5" stroke-linecap="butt"/>
<rect x="733.25" y="950.90" width="29.50" height="211.10" fill="#000"/>
<rect x="737.25" y="954.90" width="21.50" height="207.10" fill="#646464"/>
<line x1="748.00" y1="1162.00" x2="748.00" y2="1175.50" stroke="#000" stroke-width="2.6" stroke-linecap="butt"/>
<line x1="792.90" y1="986.80" x2="792.90" y2="958.00" stroke="#000" stroke-width="1.5" stroke-linecap="butt"/>
<line x1="785.90" y1="958.00" x2="799.90" y2="958.00" stroke="#000" stroke-width="1.5" stroke-linecap="butt"/>
<rect x="778.15" y="985.80" width="29.50" height="176.20" fill="#000"/>
<rect x="782.15" y="989.80" width="21.50" height="172.20" fill="#a1a1a6"/>
<line x1="792.90" y1="1162.00" x2="792.90" y2="1175.50" stroke="#000" stroke-width="2.6" stroke-linecap="butt"/>
<line x1="838.20" y1="984.30" x2="838.20" y2="964.80" stroke="#000" stroke-width="1.5" stroke-linecap="butt"/>
<line x1="831.20" y1="964.80" x2="845.20" y2="964.80" stroke="#000" stroke-width="1.5" stroke-linecap="butt"/>
<rect x="823.45" y="983.30" width="29.50" height="178.70" fill="#000"/>
<rect x="827.45" y="987.30" width="21.50" height="174.70" fill="#646464"/>
<line x1="838.20" y1="1162.00" x2="838.20" y2="1175.50" stroke="#000" stroke-width="2.6" stroke-linecap="butt"/>
<text transform="translate(569.20,1201.10) rotate(-45)" font-family="'Liberation Sans',sans-serif" font-size="23" font-weight="bold" text-anchor="end">Control</text>
<text transform="translate(613.40,1201.10) rotate(-45)" font-family="'Liberation Sans',sans-serif" font-size="23" font-weight="bold" text-anchor="end">Minoxidil</text>
<text transform="translate(663.50,1196.50) rotate(-45)" font-family="'Liberation Sans',sans-serif" font-size="23" font-weight="bold" text-anchor="end">0.1</text>
<text transform="translate(708.20,1196.50) rotate(-45)" font-family="'Liberation Sans',sans-serif" font-size="23" font-weight="bold" text-anchor="end">0.5</text>
<text transform="translate(753.50,1196.50) rotate(-45)" font-family="'Liberation Sans',sans-serif" font-size="23" font-weight="bold" text-anchor="end">1</text>
<text transform="translate(798.40,1196.50) rotate(-45)" font-family="'Liberation Sans',sans-serif" font-size="23" font-weight="bold" text-anchor="end">2.5</text>
<text transform="translate(843.70,1196.50) rotate(-45)" font-family="'Liberation Sans',sans-serif" font-size="23" font-weight="bold" text-anchor="end">10</text>
<path d="M566.90 998.60V932.60H612.10V954.90" fill="none" stroke="#000" stroke-width="2.8" stroke-linejoin="miter" stroke-linecap="butt"/>
<path d="M581.20 908.00V918.00M575.92 910.37L586.48 915.63M575.92 915.63L586.48 910.37" stroke="#000" stroke-width="2.80" stroke-linecap="round" fill="none"/>
<circle cx="581.20" cy="913.00" r="2.30"/>
<path d="M597.40 908.00V918.00M592.12 910.37L602.68 915.63M592.12 915.63L602.68 910.37" stroke="#000" stroke-width="2.80" stroke-linecap="round" fill="none"/>
<circle cx="597.40" cy="913.00" r="2.30"/>
<path d="M566.90 906.30V884.30H657.00V932.80" fill="none" stroke="#000" stroke-width="2.8" stroke-linejoin="miter" stroke-linecap="butt"/>
<path d="M587.70 859.00V869.00M582.42 861.37L592.98 866.63M582.42 866.63L592.98 861.37" stroke="#000" stroke-width="2.80" stroke-linecap="round" fill="none"/>
<circle cx="587.70" cy="864.00" r="2.30"/>
<path d="M603.90 859.00V869.00M598.62 861.37L609.18 866.63M598.62 866.63L609.18 861.37" stroke="#000" stroke-width="2.80" stroke-linecap="round" fill="none"/>
<circle cx="603.90" cy="864.00" r="2.30"/>
<path d="M620.10 859.00V869.00M614.82 861.37L625.38 866.63M614.82 866.63L625.38 861.37" stroke="#000" stroke-width="2.80" stroke-linecap="round" fill="none"/>
<circle cx="620.10" cy="864.00" r="2.30"/>
<path d="M636.30 859.00V869.00M631.02 861.37L641.58 866.63M631.02 866.63L641.58 861.37" stroke="#000" stroke-width="2.80" stroke-linecap="round" fill="none"/>
<circle cx="636.30" cy="864.00" r="2.30"/>
<path d="M566.90 850.00V842.30H702.30V884.60" fill="none" stroke="#000" stroke-width="2.8" stroke-linejoin="miter" stroke-linecap="butt"/>
<path d="M609.30 816.40V826.40M604.02 818.77L614.58 824.03M604.02 824.03L614.58 818.77" stroke="#000" stroke-width="2.80" stroke-linecap="round" fill="none"/>
<circle cx="609.30" cy="821.40" r="2.30"/>
<path d="M625.50 816.40V826.40M620.22 818.77L630.78 824.03M620.22 824.03L630.78 818.77" stroke="#000" stroke-width="2.80" stroke-linecap="round" fill="none"/>
<circle cx="625.50" cy="821.40" r="2.30"/>
<path d="M641.70 816.40V826.40M636.42 818.77L646.98 824.03M636.42 824.03L646.98 818.77" stroke="#000" stroke-width="2.80" stroke-linecap="round" fill="none"/>
<circle cx="641.70" cy="821.40" r="2.30"/>
<path d="M657.90 816.40V826.40M652.62 818.77L663.18 824.03M652.62 824.03L663.18 818.77" stroke="#000" stroke-width="2.80" stroke-linecap="round" fill="none"/>
<circle cx="657.90" cy="821.40" r="2.30"/>
<path d="M566.90 822.40V793.60H748.60V906.20" fill="none" stroke="#000" stroke-width="2.8" stroke-linejoin="miter" stroke-linecap="butt"/>
<path d="M633.40 767.80V777.80M628.12 770.17L638.68 775.43M628.12 775.43L638.68 770.17" stroke="#000" stroke-width="2.80" stroke-linecap="round" fill="none"/>
<circle cx="633.40" cy="772.80" r="2.30"/>
<path d="M649.60 767.80V777.80M644.32 770.17L654.88 775.43M644.32 775.43L654.88 770.17" stroke="#000" stroke-width="2.80" stroke-linecap="round" fill="none"/>
<circle cx="649.60" cy="772.80" r="2.30"/>
<path d="M665.80 767.80V777.80M660.52 770.17L671.08 775.43M660.52 775.43L671.08 770.17" stroke="#000" stroke-width="2.80" stroke-linecap="round" fill="none"/>
<circle cx="665.80" cy="772.80" r="2.30"/>
<path d="M682.00 767.80V777.80M676.72 770.17L687.28 775.43M676.72 775.43L687.28 770.17" stroke="#000" stroke-width="2.80" stroke-linecap="round" fill="none"/>
<circle cx="682.00" cy="772.80" r="2.30"/>
<path d="M566.90 773.50V745.70H793.30V938.60" fill="none" stroke="#000" stroke-width="2.8" stroke-linejoin="miter" stroke-linecap="butt"/>
<path d="M663.90 719.40V729.40M658.62 721.77L669.18 727.03M658.62 727.03L669.18 721.77" stroke="#000" stroke-width="2.80" stroke-linecap="round" fill="none"/>
<circle cx="663.90" cy="724.40" r="2.30"/>
<path d="M680.10 719.40V729.40M674.82 721.77L685.38 727.03M674.82 727.03L685.38 721.77" stroke="#000" stroke-width="2.80" stroke-linecap="round" fill="none"/>
<circle cx="680.10" cy="724.40" r="2.30"/>
<path d="M696.30 719.40V729.40M691.02 721.77L701.58 727.03M691.02 727.03L701.58 721.77" stroke="#000" stroke-width="2.80" stroke-linecap="round" fill="none"/>
<circle cx="696.30" cy="724.40" r="2.30"/>
<path d="M566.90 725.30V697.00H838.10V944.80" fill="none" stroke="#000" stroke-width="2.8" stroke-linejoin="miter" stroke-linecap="butt"/>
<path d="M678.20 671.40V681.40M672.92 673.77L683.48 679.03M672.92 679.03L683.48 673.77" stroke="#000" stroke-width="2.80" stroke-linecap="round" fill="none"/>
<circle cx="678.20" cy="676.40" r="2.30"/>
<path d="M694.40 671.40V681.40M689.12 673.77L699.68 679.03M689.12 679.03L699.68 673.77" stroke="#000" stroke-width="2.80" stroke-linecap="round" fill="none"/>
<circle cx="694.40" cy="676.40" r="2.30"/>
<path d="M710.60 671.40V681.40M705.32 673.77L715.88 679.03M705.32 679.03L715.88 673.77" stroke="#000" stroke-width="2.80" stroke-linecap="round" fill="none"/>
<circle cx="710.60" cy="676.40" r="2.30"/>
<path d="M726.80 671.40V681.40M721.52 673.77L732.08 679.03M721.52 679.03L732.08 673.77" stroke="#000" stroke-width="2.80" stroke-linecap="round" fill="none"/>
<circle cx="726.80" cy="676.40" r="2.30"/>
<text x="745.80" y="1239.70" font-family="'Liberation Sans',sans-serif" font-size="22.5" font-weight="bold" text-anchor="middle" textLength="232.6" lengthAdjust="spacingAndGlyphs">Me-meijicoccene (μM)</text>
<rect x="857.3" y="1210" width="25" height="45" fill="#fff"/>
<text transform="translate(470.10,996.00) rotate(-90)" font-family="'Liberation Sans',sans-serif" font-size="23.0" font-weight="bold" text-anchor="middle" textLength="391.3" lengthAdjust="spacingAndGlyphs">Relative <tspan font-style="italic">FGF1</tspan> gene expression level</text>
<text x="864.90" y="654.50" font-family="'Liberation Sans',sans-serif" font-size="27" font-weight="normal" text-anchor="start">E</text>
<line x1="957.60" y1="804.45" x2="957.60" y2="1154.85" stroke="#000" stroke-width="2.7" stroke-linecap="butt"/>
<line x1="944.40" y1="1153.50" x2="957.60" y2="1153.50" stroke="#000" stroke-width="2.7" stroke-linecap="butt"/>
<text x="939.40" y="1161.70" font-family="'Liberation Sans',sans-serif" font-size="23" font-weight="bold" text-anchor="end">0</text>
<line x1="944.40" y1="1037.60" x2="957.60" y2="1037.60" stroke="#000" stroke-width="2.7" stroke-linecap="butt"/>
<text x="939.40" y="1045.80" font-family="'Liberation Sans',sans-serif" font-size="23" font-weight="bold" text-anchor="end">1</text>
<line x1="944.40" y1="921.70" x2="957.60" y2="921.70" stroke="#000" stroke-width="2.7" stroke-linecap="butt"/>
<text x="939.40" y="929.90" font-family="'Liberation Sans',sans-serif" font-size="23" font-weight="bold" text-anchor="end">2</text>
<line x1="944.40" y1="805.80" x2="957.60" y2="805.80" stroke="#000" stroke-width="2.7" stroke-linecap="butt"/>
<text x="939.40" y="814.00" font-family="'Liberation Sans',sans-serif" font-size="23" font-weight="bold" text-anchor="end">3</text>
<line x1="944.40" y1="1153.50" x2="1304.20" y2="1153.50" stroke="#000" stroke-width="2.7" stroke-linecap="butt"/>
<line x1="988.80" y1="1039.30" x2="988.80" y2="1034.00" stroke="#000" stroke-width="1.55" stroke-linecap="butt"/>
<line x1="981.10" y1="1034.00" x2="996.50" y2="1034.00" stroke="#000" stroke-width="1.55" stroke-linecap="butt"/>
<rect x="973.60" y="1038.30" width="30.40" height="115.20" fill="#000"/>
<line x1="988.80" y1="1153.50" x2="988.80" y2="1168.40" stroke="#000" stroke-width="2.7" stroke-linecap="butt"/>
<line x1="1036.70" y1="1024.80" x2="1036.70" y2="1011.70" stroke="#000" stroke-width="1.55" stroke-linecap="butt"/>
<line x1="1029.00" y1="1011.70" x2="1044.40" y2="1011.70" stroke="#000" stroke-width="1.55" stroke-linecap="butt"/>
<rect x="1021.50" y="1023.80" width="30.40" height="129.70" fill="#000"/>
<rect x="1025.70" y="1028.00" width="22.00" height="125.50" fill="#a1a1a6"/>
<line x1="1036.70" y1="1153.50" x2="1036.70" y2="1168.40" stroke="#000" stroke-width="2.7" stroke-linecap="butt"/>
<line x1="1083.70" y1="1004.00" x2="1083.70" y2="990.70" stroke="#000" stroke-width="1.55" stroke-linecap="butt"/>
<line x1="1076.00" y1="990.70" x2="1091.40" y2="990.70" stroke="#000" stroke-width="1.55" stroke-linecap="butt"/>
<rect x="1068.50" y="1003.00" width="30.40" height="150.50" fill="#000"/>
<rect x="1072.70" y="1007.20" width="22.00" height="146.30" fill="#828282"/>
<line x1="1083.70" y1="1153.50" x2="1083.70" y2="1168.40" stroke="#000" stroke-width="2.7" stroke-linecap="butt"/>
<line x1="1129.80" y1="966.70" x2="1129.80" y2="937.90" stroke="#000" stroke-width="1.55" stroke-linecap="butt"/>
<line x1="1122.10" y1="937.90" x2="1137.50" y2="937.90" stroke="#000" stroke-width="1.55" stroke-linecap="butt"/>
<rect x="1114.60" y="965.70" width="30.40" height="187.80" fill="#000"/>
<rect x="1118.80" y="969.90" width="22.00" height="183.60" fill="#d4d4d4"/>
<line x1="1129.80" y1="1153.50" x2="1129.80" y2="1168.40" stroke="#000" stroke-width="2.7" stroke-linecap="butt"/>
<line x1="1177.30" y1="964.20" x2="1177.30" y2="924.60" stroke="#000" stroke-width="1.55" stroke-linecap="butt"/>
<line x1="1169.60" y1="924.60" x2="1185.00" y2="924.60" stroke="#000" stroke-width="1.55" stroke-linecap="butt"/>
<rect x="1162.10" y="963.20" width="30.40" height="190.30" fill="#000"/>
<rect x="1166.30" y="967.40" width="22.00" height="186.10" fill="#646464"/>
<line x1="1177.30" y1="1153.50" x2="1177.30" y2="1168.40" stroke="#000" stroke-width="2.7" stroke-linecap="butt"/>
<line x1="1223.60" y1="956.30" x2="1223.60" y2="904.70" stroke="#000" stroke-width="1.55" stroke-linecap="butt"/>
<line x1="1215.90" y1="904.70" x2="1231.30" y2="904.70" stroke="#000" stroke-width="1.55" stroke-linecap="butt"/>
<rect x="1208.40" y="955.30" width="30.40" height="198.20" fill="#000"/>
<rect x="1212.60" y="959.50" width="22.00" height="194.00" fill="#a1a1a6"/>
<line x1="1223.60" y1="1153.50" x2="1223.60" y2="1168.40" stroke="#000" stroke-width="2.7" stroke-linecap="butt"/>
<line x1="1271.20" y1="918.30" x2="1271.20" y2="862.00" stroke="#000" stroke-width="1.55" stroke-linecap="butt"/>
<line x1="1263.50" y1="862.00" x2="1278.90" y2="862.00" stroke="#000" stroke-width="1.55" stroke-linecap="butt"/>
<rect x="1256.00" y="917.30" width="30.40" height="236.20" fill="#000"/>
<rect x="1260.20" y="921.50" width="22.00" height="232.00" fill="#646464"/>
<line x1="1271.20" y1="1153.50" x2="1271.20" y2="1168.40" stroke="#000" stroke-width="2.7" stroke-linecap="butt"/>
<text transform="translate(991.30,1194.30) rotate(-45)" font-family="'Liberation Sans',sans-serif" font-size="24" font-weight="bold" text-anchor="end">Control</text>
<text transform="translate(1039.20,1194.30) rotate(-45)" font-family="'Liberation Sans',sans-serif" font-size="24" font-weight="bold" text-anchor="end">Minoxidil</text>
<text transform="translate(1090.48,1189.50) rotate(-45)" font-family="'Liberation Sans',sans-serif" font-size="24" font-weight="bold" text-anchor="end">0.1</text>
<text transform="translate(1136.58,1189.50) rotate(-45)" font-family="'Liberation Sans',sans-serif" font-size="24" font-weight="bold" text-anchor="end">0.5</text>
<text transform="translate(1184.08,1189.50) rotate(-45)" font-family="'Liberation Sans',sans-serif" font-size="24" font-weight="bold" text-anchor="end">1</text>
<text transform="translate(1230.38,1189.50) rotate(-45)" font-family="'Liberation Sans',sans-serif" font-size="24" font-weight="bold" text-anchor="end">2.5</text>
<text transform="translate(1277.98,1189.50) rotate(-45)" font-family="'Liberation Sans',sans-serif" font-size="24" font-weight="bold" text-anchor="end">10</text>
<path d="M988.60 1013.00V970.20H1035.60V990.00" fill="none" stroke="#000" stroke-width="3.0" stroke-linejoin="miter" stroke-linecap="butt"/>
<text x="1011.95" y="954.30" font-family="'Liberation Sans',sans-serif" font-size="24" font-weight="normal" text-anchor="middle" textLength="23.6" lengthAdjust="spacingAndGlyphs">ns</text>
<path d="M988.60 922.20V903.60H1082.70V969.80" fill="none" stroke="#000" stroke-width="3.0" stroke-linejoin="miter" stroke-linecap="butt"/>
<text x="1035.60" y="887.80" font-family="'Liberation Sans',sans-serif" font-size="24" font-weight="normal" text-anchor="middle" textLength="23.6" lengthAdjust="spacingAndGlyphs">ns</text>
<path d="M988.60 882.30V849.50H1129.00V916.70" fill="none" stroke="#000" stroke-width="3.0" stroke-linejoin="miter" stroke-linecap="butt"/>
<path d="M1033.55 821.70V831.70M1028.27 824.07L1038.83 829.33M1028.27 829.33L1038.83 824.07" stroke="#000" stroke-width="2.80" stroke-linecap="round" fill="none"/>
<circle cx="1033.55" cy="826.70" r="2.30"/>
<path d="M1050.05 821.70V831.70M1044.77 824.07L1055.33 829.33M1044.77 829.33L1055.33 824.07" stroke="#000" stroke-width="2.80" stroke-linecap="round" fill="none"/>
<circle cx="1050.05" cy="826.70" r="2.30"/>
<path d="M1066.55 821.70V831.70M1061.27 824.07L1071.83 829.33M1061.27 829.33L1071.83 824.07" stroke="#000" stroke-width="2.80" stroke-linecap="round" fill="none"/>
<circle cx="1066.55" cy="826.70" r="2.30"/>
<path d="M1083.05 821.70V831.70M1077.77 824.07L1088.33 829.33M1077.77 829.33L1088.33 824.07" stroke="#000" stroke-width="2.80" stroke-linecap="round" fill="none"/>
<circle cx="1083.05" cy="826.70" r="2.30"/>
<path d="M988.60 828.10V798.50H1176.50V903.10" fill="none" stroke="#000" stroke-width="3.0" stroke-linejoin="miter" stroke-linecap="butt"/>
<path d="M1057.75 771.50V781.50M1052.47 773.87L1063.03 779.13M1052.47 779.13L1063.03 773.87" stroke="#000" stroke-width="2.80" stroke-linecap="round" fill="none"/>
<circle cx="1057.75" cy="776.50" r="2.30"/>
<path d="M1074.25 771.50V781.50M1068.97 773.87L1079.53 779.13M1068.97 779.13L1079.53 773.87" stroke="#000" stroke-width="2.80" stroke-linecap="round" fill="none"/>
<circle cx="1074.25" cy="776.50" r="2.30"/>
<path d="M1090.75 771.50V781.50M1085.47 773.87L1096.03 779.13M1085.47 779.13L1096.03 773.87" stroke="#000" stroke-width="2.80" stroke-linecap="round" fill="none"/>
<circle cx="1090.75" cy="776.50" r="2.30"/>
<path d="M1107.25 771.50V781.50M1101.97 773.87L1112.53 779.13M1101.97 779.13L1112.53 773.87" stroke="#000" stroke-width="2.80" stroke-linecap="round" fill="none"/>
<circle cx="1107.25" cy="776.50" r="2.30"/>
<path d="M988.60 777.00V751.50H1223.90V884.10" fill="none" stroke="#000" stroke-width="3.0" stroke-linejoin="miter" stroke-linecap="butt"/>
<path d="M1081.25 724.20V734.20M1075.97 726.57L1086.53 731.83M1075.97 731.83L1086.53 726.57" stroke="#000" stroke-width="2.80" stroke-linecap="round" fill="none"/>
<circle cx="1081.25" cy="729.20" r="2.30"/>
<path d="M1097.75 724.20V734.20M1092.47 726.57L1103.03 731.83M1092.47 731.83L1103.03 726.57" stroke="#000" stroke-width="2.80" stroke-linecap="round" fill="none"/>
<circle cx="1097.75" cy="729.20" r="2.30"/>
<path d="M1114.25 724.20V734.20M1108.97 726.57L1119.53 731.83M1108.97 731.83L1119.53 726.57" stroke="#000" stroke-width="2.80" stroke-linecap="round" fill="none"/>
<circle cx="1114.25" cy="729.20" r="2.30"/>
<path d="M1130.75 724.20V734.20M1125.47 726.57L1136.03 731.83M1125.47 731.83L1136.03 726.57" stroke="#000" stroke-width="2.80" stroke-linecap="round" fill="none"/>
<circle cx="1130.75" cy="729.20" r="2.30"/>
<path d="M988.60 729.70V696.40H1270.80V841.40" fill="none" stroke="#000" stroke-width="3.0" stroke-linejoin="miter" stroke-linecap="butt"/>
<path d="M1104.95 670.20V680.20M1099.67 672.57L1110.23 677.83M1099.67 677.83L1110.23 672.57" stroke="#000" stroke-width="2.80" stroke-linecap="round" fill="none"/>
<circle cx="1104.95" cy="675.20" r="2.30"/>
<path d="M1121.45 670.20V680.20M1116.17 672.57L1126.73 677.83M1116.17 677.83L1126.73 672.57" stroke="#000" stroke-width="2.80" stroke-linecap="round" fill="none"/>
<circle cx="1121.45" cy="675.20" r="2.30"/>
<path d="M1137.95 670.20V680.20M1132.67 672.57L1143.23 677.83M1132.67 677.83L1143.23 672.57" stroke="#000" stroke-width="2.80" stroke-linecap="round" fill="none"/>
<circle cx="1137.95" cy="675.20" r="2.30"/>
<path d="M1154.45 670.20V680.20M1149.17 672.57L1159.73 677.83M1149.17 677.83L1159.73 672.57" stroke="#000" stroke-width="2.80" stroke-linecap="round" fill="none"/>
<circle cx="1154.45" cy="675.20" r="2.30"/>
<text x="1160.35" y="1235.70" font-family="'Liberation Sans',sans-serif" font-size="23.8" font-weight="bold" text-anchor="middle" textLength="246.9" lengthAdjust="spacingAndGlyphs">Me-meijicoccene (μM)</text>
<text transform="translate(904.50,981.00) rotate(-90)" font-family="'Liberation Sans',sans-serif" font-size="24" font-weight="bold" text-anchor="middle" textLength="412.6" lengthAdjust="spacingAndGlyphs">Relative <tspan font-style="italic">RBPJ</tspan> gene expression level</text>
</svg>
</body></html>
